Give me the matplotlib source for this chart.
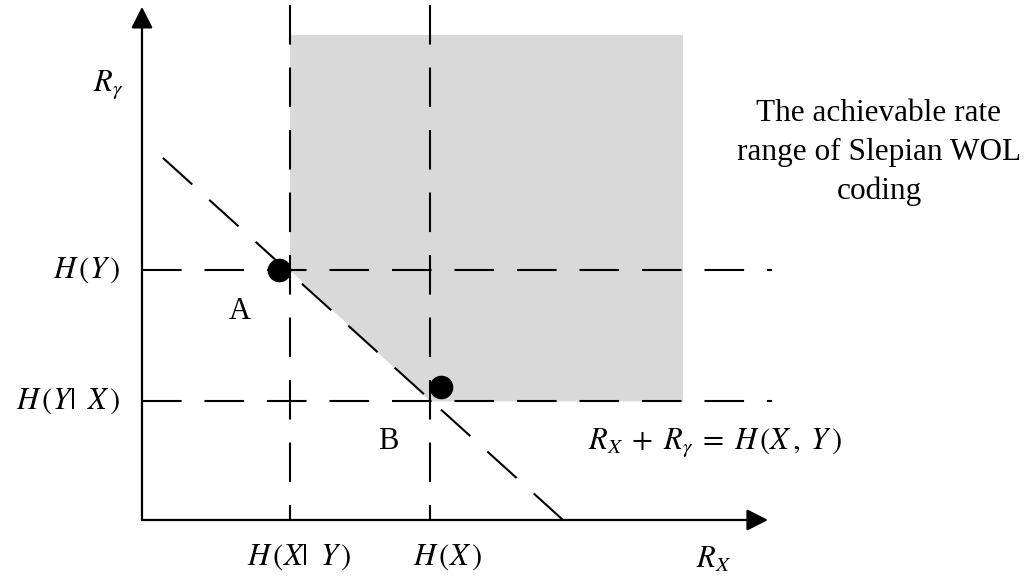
import matplotlib
matplotlib.use('Agg')
import matplotlib.pyplot as plt
from matplotlib.patches import Polygon

plt.rcParams['mathtext.fontset'] = 'stix'
plt.rcParams['font.family'] = ['Liberation Serif', 'DejaVu Serif']

# Values of the Slepian-Wolf rate diagram (arbitrary rate units)
H_X_given_Y = 1.48
H_X = 2.88
H_Y_given_X = 1.31
H_Y = 2.76
H_XY = 4.21

# Axis extents
x_axis_end = 6.26
y_axis_end = 5.67
dash_x_end = 6.30
dash_y_top = 5.69

# Achievable region (shaded)
region_right = 5.41
region_top = 5.36

# Corner points A and B (drawn a bit off the exact corners, as in the figure)
point_x = [1.37, 2.99]
point_y = [2.76, 1.47]
point_names = ['A', 'B']
name_x = [0.98, 2.46]
name_y = [2.30, 0.87]

# Diagonal R_X + R_Y = H(X,Y), drawn from the x-axis upward
diag_x = [H_XY, 0.10]
diag_y = [0.0, H_XY - 0.10]

fig = plt.figure(figsize=(10.29, 5.76), dpi=100)
ax = fig.add_axes([0, 0, 1, 1])
ax.set_xlim(-1.42, 8.87)
ax.set_ylim(-0.619, 5.746)
ax.axis('off')

# Shaded achievable rate region
poly = Polygon([(H_X_given_Y, region_top), (region_right, region_top),
                (region_right, H_Y_given_X), (H_X, H_Y_given_X),
                (H_X_given_Y, H_Y)],
               closed=True, facecolor='#d9d9d9', edgecolor='none', zorder=1)
ax.add_patch(poly)

dash = (19, 11)
lw = 1.5
# horizontal dashed lines
for yv in [H_Y, H_Y_given_X]:
    ax.plot([0, dash_x_end], [yv, yv], color='black', lw=lw, dashes=dash, zorder=2)
# vertical dashed lines
for xv in [H_X_given_Y, H_X]:
    ax.plot([xv, xv], [dash_y_top, 0], color='black', lw=lw, dashes=dash, zorder=2)
# diagonal
ax.plot(diag_x, diag_y, color='black', lw=lw, dashes=dash, zorder=2)

# axes with arrow heads
arrow = dict(arrowstyle='-|>,head_length=0.65,head_width=0.33', lw=1.6,
             color='black', mutation_scale=20, shrinkA=0, shrinkB=0)
ax.annotate('', xy=(0, y_axis_end), xytext=(0, 0), arrowprops=arrow, zorder=3)
ax.annotate('', xy=(x_axis_end, 0), xytext=(0, 0), arrowprops=arrow, zorder=3)

# corner points
ax.plot(point_x, point_y, 'o', color='black', markersize=16, zorder=4)
for nx, ny, nm in zip(name_x, name_y, point_names):
    ax.text(nx, ny, nm, fontsize=22, ha='center', va='center')

# labels
fs = 22
ax.text(-0.34, 4.81, r'$R_{\gamma}$', fontsize=fs, ha='center', va='center')
ax.text(5.72, -0.44, r'$R_X$', fontsize=fs, ha='center', va='center')
ax.text(-0.22, H_Y, r'$H\,(Y\,)$', fontsize=fs, ha='right', va='center')
ax.text(-0.22, H_Y_given_X, r'$H\,(Y|\;\;X\,)$', fontsize=fs, ha='right', va='center')
ax.text(1.05, -0.41, r'$H\,(X|\;\;Y\,)$', fontsize=fs, ha='left', va='center')
ax.text(2.71, -0.41, r'$H\,(X\,)$', fontsize=fs, ha='left', va='center')
ax.text(5.73, 0.86, r'$R_X\;+\;R_{\gamma}\;=\;H\,(X\,,\;Y\,)$', fontsize=fs,
        ha='center', va='center')

ax.text(7.37, 4.06, 'The achievable rate\nrange of Slepian WOL\ncoding',
        fontsize=22.5, ha='center', va='center', linespacing=1.45)

fig.savefig('out.png', dpi=100)
